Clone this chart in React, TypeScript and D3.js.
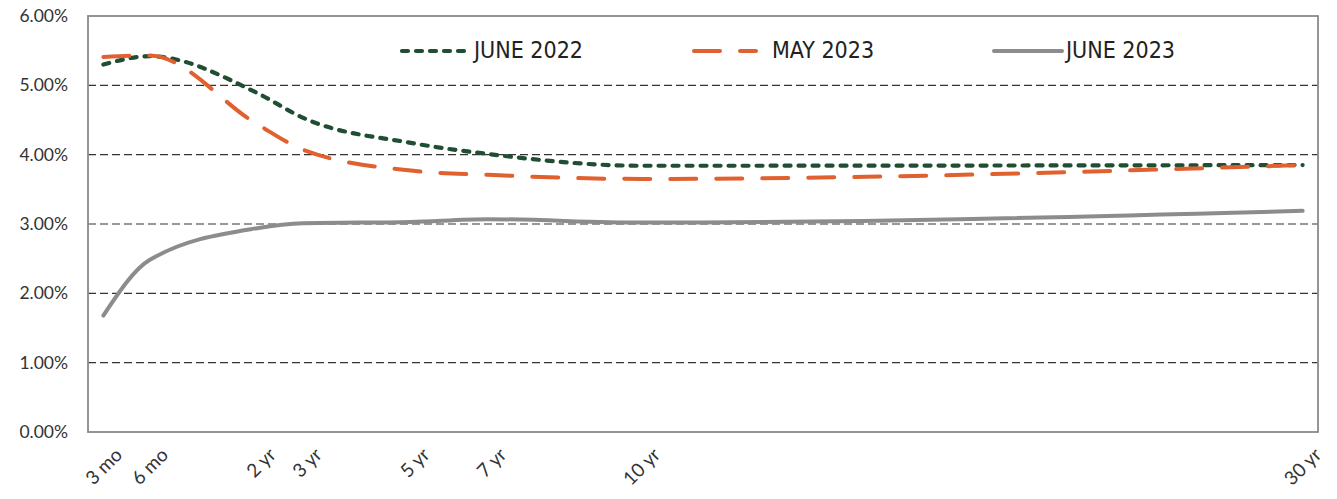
import React from "react";
import * as d3 from "d3";

// Tenor categories and their slot positions along the (irregular) x axis
const tenors = ["3 mo", "6 mo", "2 yr", "3 yr", "5 yr", "7 yr", "10 yr", "30 yr"];
const tenorSlots = [0.5, 2, 5.5, 7, 10.5, 13, 18, 39.5];

// Series values (%)
const june2022 = [5.3, 5.42, 4.89, 4.53, 4.17, 4.01, 3.84, 3.85];
const may2023 = [5.41, 5.43, 4.44, 4.07, 3.77, 3.71, 3.65, 3.85];
const june2023 = [1.68, 2.48, 2.94, 3.01, 3.03, 3.07, 3.02, 3.19];

const yTicks = [0, 1, 2, 3, 4, 5, 6];

const seriesNames = ["JUNE 2022", "MAY 2023", "JUNE 2023"];

const W = 1337;
const H = 499;
const M = { left: 88, right: 1318, top: 16, bottom: 432 };

export default function App() {
  const x = d3.scaleLinear().domain([0, 40]).range([M.left, M.right]);
  const y = d3.scaleLinear().domain([0, 6]).range([M.bottom, M.top]);

  const line = d3
    .line<number>()
    .x((_, i) => x(tenorSlots[i]))
    .y((d) => y(d))
    .curve(d3.curveMonotoneX);

  const styles = [
    { data: june2022, color: "#1f4e33", dash: "6 8", width: 4.2 },
    { data: may2023, color: "#e0602f", dash: "26 20", width: 4 },
    { data: june2023, color: "#8c8c8c", dash: null as string | null, width: 4 },
  ];

  const legend = [
    { x1: 402, x2: 468, tx: 474 },
    { x1: 694, x2: 756, tx: 772 },
    { x1: 994, x2: 1062, tx: 1066 },
  ];

  const labelFont = "Lato, 'Open Sans', sans-serif";
  const legendFont = "'DejaVu Sans Condensed', 'DejaVu Sans', sans-serif";

  return (
    <svg
      width={W}
      height={H}
      style={{ position: "absolute", left: 0, top: 0, display: "block", background: "#fff" }}
    >
      {/* gridlines */}
      {yTicks
        .filter((t) => t > 0 && t < 6)
        .map((t) => (
          <line
            key={"g" + t}
            x1={M.left}
            x2={M.right}
            y1={y(t)}
            y2={y(t)}
            stroke="#333"
            strokeWidth={1.2}
            strokeDasharray="8 4"
          />
        ))}
      {/* frame */}
      <rect
        x={M.left}
        y={M.top}
        width={M.right - M.left}
        height={M.bottom - M.top}
        fill="none"
        stroke="#8a8a8a"
        strokeWidth={1.8}
      />
      {/* y labels */}
      {yTicks.map((t) => (
        <text
          key={"y" + t}
          x={68}
          y={y(t)}
          dy="0.35em"
          textAnchor="end"
          fontFamily={labelFont}
          fontSize={17.5}
          fill="#333"
        >
          {t.toFixed(2) + "%"}
        </text>
      ))}
      {/* x labels */}
      {tenors.map((t, i) => (
        <text
          key={"x" + t}
          transform={`translate(${x(tenorSlots[i]) + 20},${456}) rotate(-45)`}
          textAnchor="end"
          fontFamily={labelFont}
          fontSize={19}
          fill="#333"
        >
          {t}
        </text>
      ))}
      {/* series */}
      {styles.map((s, i) => (
        <path
          key={"s" + i}
          d={line(s.data) || ""}
          fill="none"
          stroke={s.color}
          strokeWidth={s.width}
          strokeLinecap="round"
          strokeLinejoin="round"
          strokeDasharray={s.dash || undefined}
        />
      ))}
      {/* legend */}
      {styles.map((s, i) => (
        <g key={"l" + i}>
          <line
            x1={legend[i].x1}
            x2={legend[i].x2}
            y1={51}
            y2={51}
            stroke={s.color}
            strokeWidth={s.width}
            strokeLinecap="round"
            strokeDasharray={s.dash || undefined}
          />
          <text
            x={legend[i].tx}
            y={58}
            fontFamily={legendFont}
            fontStretch="condensed"
            fontSize={23}
            fill="#222"
          >
            {seriesNames[i]}
          </text>
        </g>
      ))}
    </svg>
  );
}
